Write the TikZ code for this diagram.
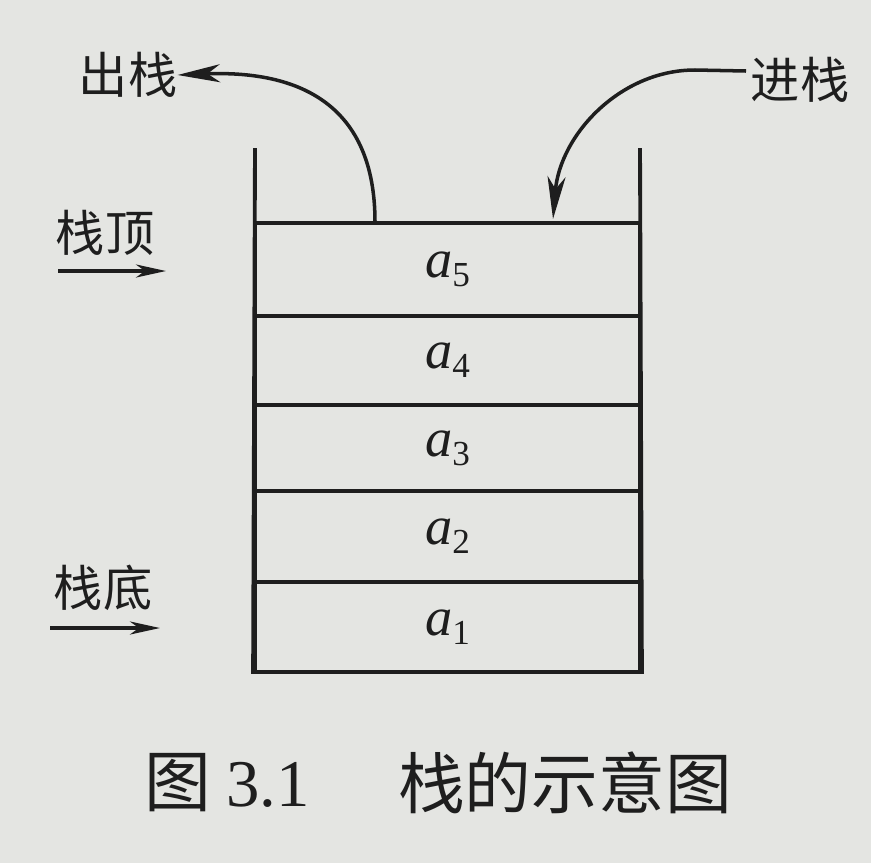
\documentclass[tikz,border=0pt]{standalone}
\usepackage{fontspec}
\setmainfont{Liberation Serif}
\newfontfamily\cjk{Noto Sans CJK SC}
\usetikzlibrary{arrows.meta}
\definecolor{paper}{RGB}{228,229,226}
\definecolor{ink}{RGB}{30,30,30}
\newcommand{\cellname}[1]{\textit{a}\raisebox{-0.35ex}{\fontsize{20}{22}\selectfont #1}}
\begin{document}
\begin{tikzpicture}[x=0.02cm,y=-0.02cm,
  cell/.style={draw=ink,line width=2.2pt,minimum width=7.7cm,inner sep=0pt,
    font=\fontsize{31}{34}\selectfont,text=ink},
  wall/.style={draw=ink,line width=2.2pt},
  bigarrow/.style={draw=ink,line width=2pt,-{Stealth[length=0.85cm,width=0.36cm,inset=0.25cm]}},
  sidearrow/.style={draw=ink,line width=2pt,-{Stealth[length=0.6cm,width=0.26cm,inset=0.18cm]}},
  lab/.style={font=\cjk\fontsize{28}{30}\selectfont,text=ink,inner sep=0pt},
  captext/.style={font=\fontsize{38}{40}\selectfont,text=ink,inner sep=0pt},
  capcjk/.style={font=\cjk\fontsize{38}{40}\selectfont,text=ink,inner sep=0pt}]
\fill[paper] (0,0) rectangle (871,863);
\useasboundingbox (0,0) rectangle (871,863);
\node[cell,minimum height=1.86cm] (a5) at (447.5,269.5) {\cellname{5}};
\node[cell,minimum height=1.78cm] (a4) at (447.5,360.5) {\cellname{4}};
\node[cell,minimum height=1.72cm] (a3) at (447.5,448) {\cellname{3}};
\node[cell,minimum height=1.82cm] (a2) at (447.5,536.5) {\cellname{2}};
\node[cell,minimum height=1.80cm] (a1) at (447.5,627) {\cellname{1}};
\coordinate (lt) at (255,148);
\coordinate (rt) at (640,148);
\draw[wall] (lt) -- (a1.south west);
\draw[wall] (rt) -- (a1.south east);
\node[lab] (out) at (128,75) {出栈};
\node[lab] (in) at (800,80) {进栈};
\node[lab] (top) at (105,233) {栈顶};
\node[lab] (bot) at (103,588) {栈底};
\coordinate (outs) at (375,222);
\coordinate (ine) at (553,219);
\coordinate (ins) at (746,71);
\draw[bigarrow] (outs) .. controls (375,105) and (300,70) .. (out.east);
\draw[bigarrow] (ins) -- (695,70) .. controls (620,70) and (560,135) .. (ine);
\coordinate (ts) at (58,271);
\coordinate (te) at (166,271);
\coordinate (bs) at (50,628);
\coordinate (be) at (160,628);
\draw[sidearrow] (ts) -- (te);
\draw[sidearrow] (bs) -- (be);
\node[capcjk] (c1) at (178,783) {图};
\node[captext] (c2) at (268,785) {3.1};
\node[capcjk] (c3) at (565,783) {栈的示意图};
\end{tikzpicture}
\end{document}
